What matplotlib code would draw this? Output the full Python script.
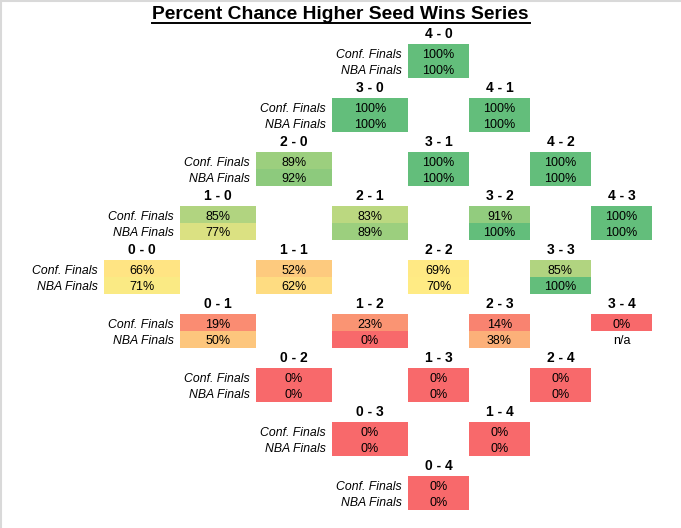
import matplotlib
matplotlib.use("Agg")
import matplotlib.pyplot as plt
from matplotlib.patches import Rectangle
from matplotlib.colors import to_rgb
import numpy as np

# series state: wins of higher seed / wins of lower seed
higher_wins = [4, 3, 4, 2, 3, 4, 1, 2, 3, 4, 0, 1, 2, 3, 0, 1, 2, 3, 0, 1, 2, 0, 1, 0]
lower_wins  = [0, 0, 1, 0, 1, 2, 0, 1, 2, 3, 0, 1, 2, 3, 1, 2, 3, 4, 2, 3, 4, 3, 4, 4]
conf_pct = [100, 100, 100, 89, 100, 100, 85, 83, 91, 100, 66, 52, 69, 85,
            19, 23, 14, 0, 0, 0, 0, 0, 0, 0]
nba_pct = [100, 100, 100, 92, 100, 100, 77, 89, 100, 100, 71, 62, 70, 100,
           50, 0, 38, None, 0, 0, 0, 0, 0, 0]
row_labels = ["Conf. Finals", "NBA Finals"]
title = "Percent Chance Higher Seed Wins Series"

# sheet layout (pixels)
W, H = 681, 528
col_edges = [0, 104, 180, 256, 332, 408, 469, 530, 591, 652]
first_block = 24
header_h = 20
row_h = 17
block_h = header_h + 2 * row_h

RED, YELLOW, GREEN = to_rgb("#F8696B"), to_rgb("#FFEB84"), to_rgb("#63BE7B")
FONT = ["Liberation Sans", "DejaVu Sans"]

all_vals = [v for v in conf_pct + nba_pct if v is not None]
lo, mid, hi = min(all_vals), np.percentile(all_vals, 50), max(all_vals)


def scale_color(v):
    # Excel style 3-colour scale: min red, 50th percentile yellow, max green
    if v <= mid:
        t = (v - lo) / (mid - lo)
        a, b = RED, YELLOW
    else:
        t = (v - mid) / (hi - mid)
        a, b = YELLOW, GREEN
    return tuple(a[i] + (b[i] - a[i]) * t for i in range(3))


fig = plt.figure(figsize=(W / 100, H / 100), dpi=100)
ax = fig.add_axes([0, 0, 1, 1])
ax.set_xlim(0, W)
ax.set_ylim(H, 0)
ax.axis("off")

# light sheet border (top and left)
ax.plot([0, W], [0.5, 0.5], color="#d9d9d9", lw=1.5)
ax.plot([0.5, 0.5], [0, H], color="#d9d9d9", lw=1.5)

ax.text(W / 2 - 0.5, 19, title, ha="center", va="baseline", fontsize=13.9,
        fontweight="bold", family=FONT)
ax.plot([151.5, 530], [22.5, 22.5], color="black", lw=1.4)

for w, l, c, n in zip(higher_wins, lower_wins, conf_pct, nba_pct):
    block = 4 - w + l
    col = 1 + w + l
    x0, x1 = col_edges[col], col_edges[col + 1]
    xc = (x0 + x1) / 2
    top = first_block + block * block_h
    ax.text(xc, top + 14.3, "%d - %d" % (w, l), ha="center", va="baseline",
            fontsize=10, fontweight="bold", family=FONT)
    for r, v in enumerate([c, n]):
        ry = top + header_h + r * row_h
        if v is None:
            ax.text(xc, ry + 13.5, "n/a", ha="center", va="baseline",
                    fontsize=9, family=FONT)
            continue
        ax.add_patch(Rectangle((x0, ry), x1 - x0, row_h,
                               facecolor=scale_color(v), edgecolor="none"))
        ax.text(xc, ry + 13.5, "%d%%" % v, ha="center", va="baseline",
                fontsize=9, family=FONT)
    # row labels only next to the leftmost state of each row
    if col == min(1 + hw + lw for hw, lw in zip(higher_wins, lower_wins)
                  if 4 - hw + lw == block):
        for r, lab in enumerate(row_labels):
            ry = top + header_h + r * row_h
            ax.text(x0 - 6, ry + 13.5, lab, ha="right", va="baseline",
                    fontsize=8.8, style="italic", family=FONT)

fig.savefig("out.png", dpi=100)
